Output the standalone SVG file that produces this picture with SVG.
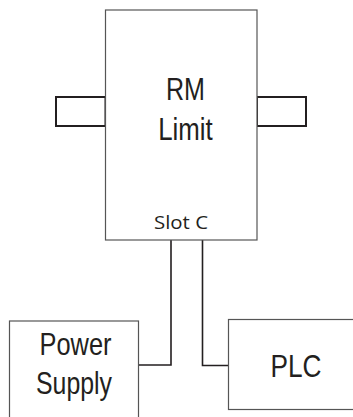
<svg xmlns="http://www.w3.org/2000/svg" width="353" height="417" viewBox="0 0 353 417">
<style>
.box{fill:#fff;stroke:#555;stroke-width:1.2}
.tab{fill:#fff;stroke:#231f20;stroke-width:2}
.wire{fill:none;stroke:#231f20;stroke-width:1.6}
.lbl{font-family:"Liberation Sans Narrow","Liberation Sans",Arial,sans-serif;font-size:32px;fill:#231f20;text-anchor:middle}
.slot{font-family:"Open Sans","DejaVu Sans",sans-serif;font-size:19px;fill:#231f20;text-anchor:middle}
</style>
<rect width="353" height="417" fill="#fff"/>
<g id="connectors">
<polyline class="wire" points="171,240 171,365 138.5,365"/>
<polyline class="wire" points="202.5,240 202.5,365.5 228.5,365.5"/>
</g>
<g id="rm-limit">
<rect class="tab" x="56" y="97" width="49.5" height="29"/>
<rect class="tab" x="257" y="97" width="49" height="29"/>
<rect class="box" x="105.5" y="10" width="151.5" height="230"/>
<text class="lbl" x="185.5" y="100" textLength="39" lengthAdjust="spacingAndGlyphs">RM</text>
<text class="lbl" x="185.5" y="140" textLength="54.5" lengthAdjust="spacingAndGlyphs">Limit</text>
<text class="slot" x="181" y="228.5" textLength="54" lengthAdjust="spacingAndGlyphs">Slot C</text>
</g>
<g id="power-supply">
<rect class="box" x="9.5" y="321" width="129" height="110"/>
<text class="lbl" x="75.5" y="355" textLength="72" lengthAdjust="spacingAndGlyphs">Power</text>
<text class="lbl" x="74" y="393.5" textLength="76" lengthAdjust="spacingAndGlyphs">Supply</text>
</g>
<g id="plc">
<rect class="box" x="228.5" y="319.5" width="140" height="90"/>
<text class="lbl" x="296" y="376.5" textLength="51" lengthAdjust="spacingAndGlyphs">PLC</text>
</g>
</svg>
